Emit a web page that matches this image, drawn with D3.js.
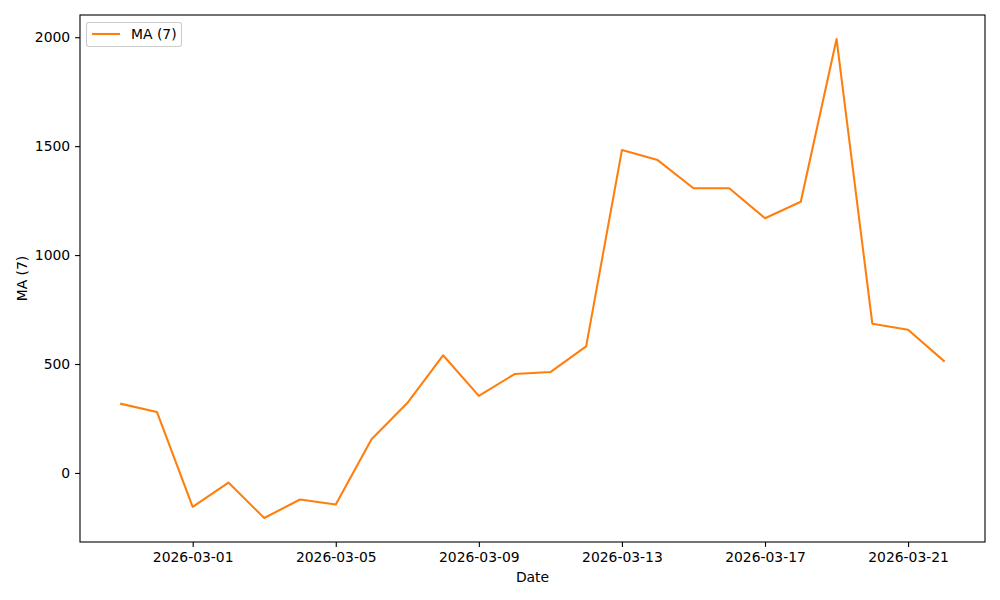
<!DOCTYPE html>
<html><head><meta charset="utf-8">
<script src="https://cdn.jsdelivr.net/npm/d3@7"></script>
<style>body{margin:0;background:#fff}svg{font-family:"DejaVu Sans",sans-serif}</style>
</head><body><svg id="c" width="1000" height="600"></svg>
<script>
const dates = ["2026-02-27","2026-02-28","2026-03-01","2026-03-02","2026-03-03","2026-03-04","2026-03-05","2026-03-06","2026-03-07","2026-03-08","2026-03-09","2026-03-10","2026-03-11","2026-03-12","2026-03-13","2026-03-14","2026-03-15","2026-03-16","2026-03-17","2026-03-18","2026-03-19","2026-03-20","2026-03-21","2026-03-22"];
const ma7 = [317,280,-156,-44,-207,-122,-145,155,321,540,354,454,463,581,1482,1436,1307,1307,1169,1245,1992,685,657,514];
const xTickLabels = ["2026-03-01","2026-03-05","2026-03-09","2026-03-13","2026-03-17","2026-03-21"];
const yTicks = [0,500,1000,1500,2000];
const seriesName = "MA (7)";

const parse = d3.utcParse("%Y-%m-%d");
const data = dates.map((d,i)=>({x:parse(d), y:ma7[i]}));
const L=80,R=985,T=15,B=542;
const svg = d3.select("#c");
const xmin = d3.min(data,d=>d.x), xmax = d3.max(data,d=>d.x);
const span = xmax - xmin;
const x = d3.scaleUtc().domain([new Date(+xmin - span*0.05), new Date(+xmax + span*0.05)]).range([L,R]);
const ymn = d3.min(ma7), ymx = d3.max(ma7), yr = ymx-ymn;
const y = d3.scaleLinear().domain([ymn-0.05*yr, ymx+0.05*yr]).range([B,T]);

const fs = "13.9px";
const xa = svg.append("g").attr("transform",`translate(0,${B})`)
  .call(d3.axisBottom(x).tickValues(xTickLabels.map(parse)).tickFormat(d3.utcFormat("%Y-%m-%d")).tickSize(4.9).tickPadding(4.9));
const ya = svg.append("g").attr("transform",`translate(${L},0)`)
  .call(d3.axisLeft(y).tickValues(yTicks).tickFormat(d3.format("d")).tickSize(4.9).tickPadding(4.9));
[xa,ya].forEach(a=>{a.select(".domain").remove();a.selectAll("text").attr("font-size",fs).attr("font-family","DejaVu Sans").attr("fill","#000");a.selectAll("line").attr("stroke","#000").attr("stroke-width",1.1);});

svg.append("path").datum(data).attr("fill","none").attr("stroke","#ff7f0e").attr("stroke-width",2.08)
  .attr("stroke-linejoin","round").attr("stroke-linecap","square")
  .attr("d", d3.line().x(d=>x(d.x)).y(d=>y(d.y)));

svg.append("rect").attr("x",L).attr("y",T).attr("width",R-L).attr("height",B-T)
  .attr("fill","none").attr("stroke","#000").attr("stroke-width",1.1);

svg.append("text").attr("x",(L+R)/2).attr("y",582).attr("text-anchor","middle").attr("font-size",fs).text("Date");
svg.append("text").attr("transform",`translate(27,${(T+B)/2}) rotate(-90)`).attr("text-anchor","middle").attr("font-size",fs).text(seriesName);

const lg = svg.append("g");
lg.append("rect").attr("x",86.5).attr("y",22.5).attr("width",95).attr("height",24).attr("rx",2.5)
  .attr("fill","#fff").attr("fill-opacity",0.8).attr("stroke","#ccc").attr("stroke-width",1.1);
lg.append("line").attr("x1",92).attr("x2",120).attr("y1",34).attr("y2",34).attr("stroke","#ff7f0e").attr("stroke-width",2.08);
lg.append("text").attr("x",131).attr("y",39).attr("font-size",fs).text(seriesName);
</script></body></html>
